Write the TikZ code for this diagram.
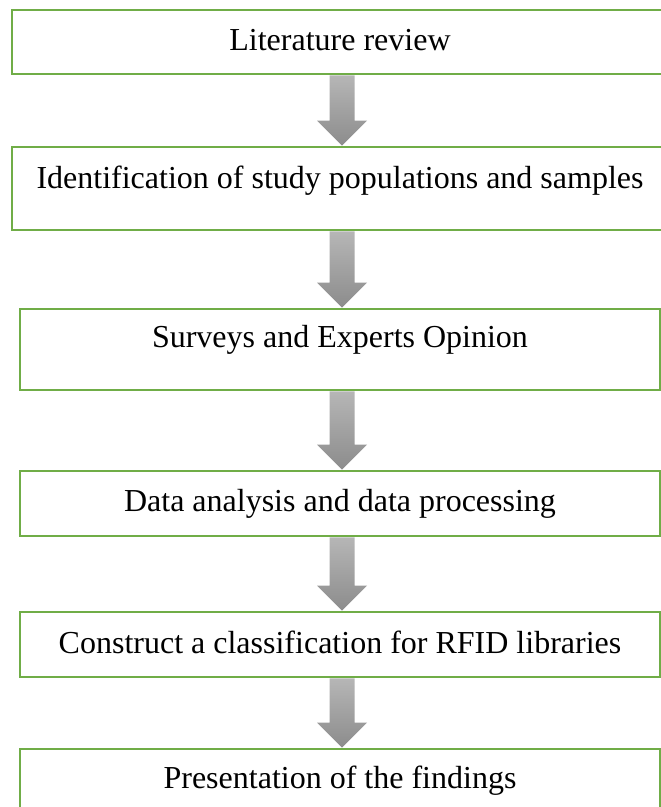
\documentclass[tikz,border=0pt]{standalone}
\usepackage{fontspec}
\setmainfont{Liberation Serif}
\usetikzlibrary{positioning, calc}
\definecolor{stagegreen}{RGB}{112,173,71}
\tikzset{
	x=1pt, y=-1pt, % pixel-like units, y pointing down
	node distance=73pt, % gap between two boxes. Change if necessary.
	stage/.style={draw=stagegreen, line width=2.6pt, fill=white, inner sep=0pt, outer sep=0pt, minimum width=640pt, font=\fontsize{32}{38}\selectfont}, % every box of the flow
	wide stage/.style={stage, minimum width=656pt}, % the two upper boxes
	flow arrow/.style={top color={rgb,255:red,182;green,182;blue,182}, bottom color={rgb,255:red,140;green,140;blue,140}}, % grey block arrow
}
% block arrow from the bottom of one box to the top of the next
\newcommand{\flowarrow}[2]{%
	\shade[flow arrow] let \p1=($(#1.south)+(2,1.3)$), \p2=($(#2.north)+(2,-1.3)$) in
		(\x1-12.5pt,\y1) -- (\x1+12.5pt,\y1) -- (\x1+12.5pt,\y2+25pt) -- (\x1+25pt,\y2+25pt)
		-- (\x2,\y2) -- (\x1-25pt,\y2+25pt) -- (\x1-12.5pt,\y2+25pt) -- cycle;}

\begin{document}
\begin{tikzpicture}
	\useasboundingbox (0,0) rectangle (661,807);

	\node[wide stage, anchor=north, text height=40pt, text depth=24pt] (lit_review) at (340,10) {Literature review};
	\node[wide stage, below=73pt of lit_review, text height=41pt, text depth=42pt] (study_pop) {Identification of study populations and samples};
	\node[stage, below=79pt of study_pop, text height=38pt, text depth=43pt] (surveys) {Surveys and Experts Opinion};
	\node[stage, below=81pt of surveys, text height=40pt, text depth=25pt] (data_analysis) {Data analysis and data processing};
	\node[stage, below=76pt of data_analysis, text height=41pt, text depth=24pt] (classification) {Construct a classification for RFID libraries};
	\node[stage, below=72pt of classification, text height=39pt, text depth=26pt] (findings) {Presentation of the findings};

	\flowarrow{lit_review}{study_pop}
	\flowarrow{study_pop}{surveys}
	\flowarrow{surveys}{data_analysis}
	\flowarrow{data_analysis}{classification}
	\flowarrow{classification}{findings}
\end{tikzpicture}
\end{document}
